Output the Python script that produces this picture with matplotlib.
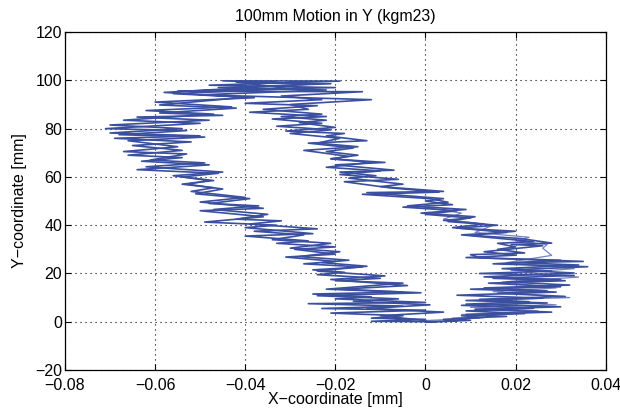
import matplotlib
matplotlib.use("Agg")
import matplotlib.pyplot as plt
import numpy as np

plt.rcParams['font.family'] = ['Liberation Sans', 'DejaVu Sans']

title = "100mm Motion in Y (kgm23)"
xlabel = "X\u2212coordinate [mm]"
ylabel = "Y\u2212coordinate [mm]"
xticks = [-0.08, -0.06, -0.04, -0.02, 0.0, 0.02, 0.04]
xticklabels = ["\u22120.08", "\u22120.06", "\u22120.04", "\u22120.02", "0", "0.02", "0.04"]
yticks = [-20, 0, 20, 40, 60, 80, 100, 120]
yticklabels = ["\u221220", "0", "20", "40", "60", "80", "100", "120"]

# pass A: right branch up, top, left branch down
xa = [0.000, 0.007, 0.004, 0.013, 0.008, 0.022, 0.009, 0.024, 0.008, 0.027, 0.009, 0.026, 0.007, 0.029,
      0.010, 0.030, 0.014, 0.031, 0.015, 0.033, 0.012, 0.028, 0.017, 0.034, 0.020, 0.035, 0.012, 0.010,
      0.022, 0.016, 0.020, 0.016, 0.024, 0.008, 0.018, 0.006, 0.013, 0.004, 0.010, 0.000, 0.007, -0.005,
      0.006, 0.000, 0.004, -0.013, 0.004, -0.010, -0.005, -0.017, -0.011, -0.019, -0.007, -0.020, -0.009,
      -0.021, -0.015, -0.022, -0.016, -0.026, -0.013, -0.022, -0.018, -0.031, -0.020, -0.028, -0.022,
      -0.032, -0.023, -0.036, -0.024, -0.040, -0.023, -0.032, -0.014, -0.055, -0.020, -0.048, -0.019,
      -0.045, -0.025, -0.058, -0.040, -0.059, -0.042, -0.059, -0.045, -0.064, -0.048, -0.070, -0.054,
      -0.070, -0.050, -0.069, -0.052, -0.065, -0.054, -0.066, -0.054, -0.063, -0.048, -0.064, -0.046,
      -0.054, -0.047, -0.054, -0.047, -0.052, -0.040, -0.050, -0.036, -0.050, -0.036, -0.049, -0.033,
      -0.040, -0.025, -0.040, -0.026, -0.033, -0.020, -0.029, -0.020, -0.031, -0.020, -0.027, -0.014,
      -0.025, -0.018, -0.024, -0.010, -0.020, -0.005, -0.015, -0.022, -0.005, -0.025, -0.012, -0.020,
      0.000, -0.026, -0.005, -0.023, 0.000, -0.021, -0.005, -0.012, 0.000, -0.012, 0.002]
ya = [0.0, 0.3, 1.0, 1.8, 2.5, 3.4, 4.5, 5.6, 6.8, 7.8, 8.8, 9.8, 11.0, 12.3,
      13.5, 14.5, 16.0, 17.0, 18.0, 19.2, 20.0, 21.0, 22.0, 23.5, 24.5, 25.0, 26.5, 27.8,
      28.5, 30.0, 31.0, 32.5, 33.2, 36.0, 37.0, 39.0, 40.5, 42.0, 43.0, 44.5, 46.0, 47.5,
      48.5, 50.0, 51.0, 53.5, 54.0, 56.0, 57.0, 59.5, 60.5, 62.0, 62.8, 65.0, 66.0,
      67.5, 69.0, 70.5, 72.0, 74.0, 75.0, 77.0, 78.0, 79.0, 80.5, 82.5, 83.5,
      85.0, 86.0, 88.0, 89.5, 90.5, 92.0, 93.5, 95.3, 95.5, 97.0, 98.0, 99.7,
      99.8, 98.5, 95.0, 93.0, 89.8, 88.5, 86.5, 85.5, 84.8, 83.5, 81.5, 80.0,
      78.2, 77.0, 76.0, 74.5, 73.0, 71.0, 69.0, 68.0, 66.5, 65.0, 63.0, 61.5,
      60.0, 58.5, 57.0, 55.5, 54.0, 51.5, 49.6, 47.0, 46.0, 43.5, 41.3, 40.0,
      39.0, 36.5, 35.5, 33.5, 32.5, 31.0, 30.0, 28.0, 26.8, 25.0, 24.0, 22.7,
      21.5, 20.5, 19.5, 18.0, 17.0, 16.0, 14.5, 13.5, 12.3, 11.5, 10.3, 9.5,
      8.0, 7.5, 6.5, 5.5, 4.8, 3.6, 2.5, 1.5, 1.0, 0.2, 0.0]

# pass B: second cycle with different excursions
xb = [0.002, 0.010, 0.006, 0.018, 0.009, 0.028, 0.011, 0.030, 0.009, 0.023, 0.012, 0.031, 0.016, 0.027,
      0.013, 0.032, 0.018, 0.030, 0.013, 0.033, 0.019, 0.036, 0.015, 0.030, 0.009, 0.020, 0.013, 0.026,
      0.019, 0.028, 0.021, 0.010, 0.020, 0.007, 0.016, 0.005, 0.011, -0.001, 0.009, -0.004, 0.005, 0.001,
      -0.014, 0.003, -0.008, -0.018, -0.006, -0.019, -0.010, -0.022, -0.012, -0.021, -0.017, -0.027,
      -0.015, -0.024, -0.019, -0.030, -0.021, -0.033, -0.023, -0.034, -0.022, -0.039, -0.026, -0.030,
      -0.012, -0.050, -0.022, -0.046, -0.021, -0.042, -0.030, -0.056, -0.038, -0.060, -0.043, -0.062,
      -0.047, -0.067, -0.050, -0.071, -0.053, -0.068, -0.049, -0.066, -0.055, -0.067, -0.053, -0.061,
      -0.049, -0.062, -0.045, -0.056, -0.048, -0.053, -0.045, -0.051, -0.039, -0.048, -0.037, -0.047,
      -0.035, -0.042, -0.032, -0.039, -0.024, -0.038, -0.027, -0.034, -0.021, -0.030, -0.019, -0.028,
      -0.017, -0.023, -0.013, -0.024, -0.009, -0.021, -0.004, -0.019, -0.001, -0.024, -0.006, -0.016,
      0.001, -0.013, 0.004, -0.010, 0.000]
yb = [0.0, 0.6, 1.4, 2.2, 3.0, 4.0, 5.2, 6.2, 7.3, 8.3, 9.3, 10.5, 11.8, 12.8,
      14.0, 15.2, 16.5, 17.5, 18.6, 20.2, 21.5, 22.8, 24.0, 25.5, 26.6, 27.6, 29.0, 31.5,
      32.0, 32.6, 34.5, 35.8, 37.5, 38.8, 40.0, 41.5, 43.5, 45.0, 46.5, 48.0, 49.5, 51.0,
      52.8, 53.7, 55.5, 58.0, 59.0, 61.0, 62.5, 64.0, 66.0, 67.5, 68.5, 71.0,
      72.5, 74.0, 76.0, 78.0, 79.5, 81.0, 82.2, 84.0, 85.0, 86.8, 88.0, 90.0,
      92.0, 94.0, 96.0, 97.0, 98.6, 99.3, 96.5, 94.5, 92.8, 91.0, 89.0, 87.5,
      86.0, 83.5, 82.2, 80.0, 79.2, 77.5, 76.5, 75.0, 72.5, 70.5, 69.5, 67.0,
      65.8, 64.2, 62.0, 60.5, 58.5, 57.0, 55.0, 53.0, 51.0, 49.0, 48.0, 46.5,
      44.5, 42.5, 41.8, 40.5, 38.5, 37.5, 36.0, 34.0, 32.5, 30.5, 29.0, 27.0,
      25.5, 24.5, 23.0, 21.0, 19.0, 17.5, 15.0, 13.5, 12.0, 10.8, 9.5, 8.5,
      7.0, 5.5, 4.0, 2.5, 0.5]

# pass C: faint third cycle on the lower right
xc = [0.000, 0.012, 0.008, 0.025, 0.010, 0.029, 0.013, 0.032, 0.015, 0.029, 0.017, 0.034, 0.022, 0.033,
      0.018, 0.028, 0.026, 0.027, 0.020, 0.023, 0.011, 0.015, 0.004, 0.008, -0.002]
yc = [0.5, 1.5, 3.0, 4.5, 6.0, 7.0, 9.0, 10.0, 12.5, 14.0, 16.5, 18.5, 20.5, 22.0,
      24.5, 27.5, 30.5, 32.0, 33.5, 35.0, 37.0, 40.0, 42.5, 45.0, 48.0]

fig = plt.figure(figsize=(6.2, 4.08), dpi=100)
ax = fig.add_axes([0.1048, 0.093, 0.8722, 0.8284])

col = '#3a4f9f'
ax.plot(xa, ya, color=col, lw=1.2)
ax.plot(xb, yb, color=col, lw=1.2)
ax.plot(xc, yc, color=col, lw=0.9, alpha=0.7)

ax.set_xlim(-0.08, 0.04)
ax.set_ylim(-20, 120)
ax.set_xticks(xticks)
ax.set_xticklabels(xticklabels)
ax.set_yticks(yticks)
ax.set_yticklabels(yticklabels)
ax.tick_params(direction='in', top=True, right=True, length=4, labelsize=11.5, pad=2)
ax.tick_params(axis='x', pad=6)
ax.grid(True, color='black', linestyle=(0, (1, 3.5)), linewidth=0.8)
for s in ax.spines.values():
    s.set_linewidth(0.9)
ax.set_title(title, fontsize=11.5, pad=8)
ax.set_xlabel(xlabel, fontsize=11.5, labelpad=-1)
ax.set_ylabel(ylabel, fontsize=11.5, labelpad=6)

fig.savefig("out.png", dpi=100)
